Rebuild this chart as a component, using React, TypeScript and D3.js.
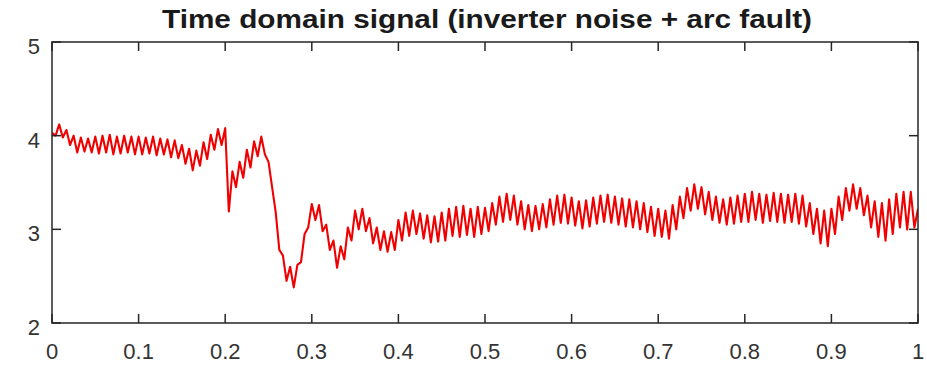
import React from "react";
import * as d3 from "d3";

const title = "Time domain signal (inverter noise + arc fault)";
const xTicks = [0, 0.1, 0.2, 0.3, 0.4, 0.5, 0.6, 0.7, 0.8, 0.9, 1];
const xTickLabels = ["0", "0.1", "0.2", "0.3", "0.4", "0.5", "0.6", "0.7", "0.8", "0.9", "1"];
const yTicks = [2, 3, 4, 5];
const yTickLabels = ["2", "3", "4", "5"];

// signal samples, evenly spaced from t = 0 to t = 1 (peak / trough pairs)
const signal = [
  // 0.00 - 0.05
  4.03, 4.0, 4.12, 3.98, 4.06, 3.9, 4.0, 3.82, 3.98, 3.83, 3.97, 3.82,
  // 0.05 - 0.10
  3.99, 3.81, 4.0, 3.82, 4.01, 3.8, 3.99, 3.81, 4.0, 3.82, 3.99, 3.8,
  // 0.10 - 0.15
  3.99, 3.8, 3.98, 3.81, 3.99, 3.79, 3.97, 3.8, 3.96, 3.77, 3.95, 3.76,
  // 0.15 - 0.20
  3.9, 3.7, 3.86, 3.63, 3.84, 3.68, 3.93, 3.75, 4.01, 3.85, 4.07, 3.9,
  // 0.20 - 0.25
  4.08, 3.19, 3.62, 3.45, 3.72, 3.55, 3.85, 3.66, 3.94, 3.78, 3.99, 3.8,
  // 0.25 - 0.30
  3.72, 3.45, 3.18, 2.78, 2.72, 2.45, 2.6, 2.38, 2.62, 2.65, 2.95, 3.02,
  // 0.30 - 0.35
  3.27, 3.1, 3.26, 2.98, 3.05, 2.78, 2.88, 2.59, 2.82, 2.68, 3.02, 2.88,
  // 0.35 - 0.40
  3.2, 3.0, 3.22, 2.98, 3.12, 2.85, 3.02, 2.78, 2.98, 2.76, 2.97, 2.78,
  // 0.40 - 0.45
  3.1, 2.88, 3.18, 2.93, 3.2, 2.95, 3.17, 2.9, 3.15, 2.86, 3.14, 2.87,
  // 0.45 - 0.50
  3.18, 2.88, 3.22, 2.93, 3.24, 2.92, 3.25, 2.94, 3.22, 2.92, 3.24, 2.95,
  // 0.50 - 0.55
  3.23, 2.98, 3.28, 3.05, 3.35, 3.08, 3.38, 3.1, 3.36, 3.05, 3.3, 3.0,
  // 0.55 - 0.60
  3.26, 2.98, 3.25, 3.0, 3.27, 3.02, 3.32, 3.05, 3.36, 3.07, 3.37, 3.06,
  // 0.60 - 0.65
  3.34, 3.04, 3.3, 3.01, 3.31, 3.03, 3.34, 3.06, 3.36, 3.08, 3.37, 3.07,
  // 0.65 - 0.70
  3.35, 3.05, 3.33, 3.03, 3.32, 3.02, 3.3, 3.0, 3.28, 2.97, 3.24, 2.93,
  // 0.70 - 0.75
  3.22, 2.92, 3.2, 2.9, 3.26, 3.0, 3.35, 3.12, 3.44, 3.2, 3.48, 3.22,
  // 0.75 - 0.80
  3.45, 3.16, 3.4, 3.1, 3.35, 3.07, 3.32, 3.05, 3.34, 3.06, 3.36, 3.08,
  // 0.80 - 0.85
  3.38, 3.08, 3.4, 3.1, 3.38, 3.07, 3.37, 3.09, 3.39, 3.08, 3.38, 3.07,
  // 0.85 - 0.90
  3.37, 3.08, 3.38, 3.06, 3.36, 3.03, 3.28, 2.95, 3.22, 2.85, 3.2, 2.82,
  // 0.90 - 0.95
  3.22, 2.95, 3.35, 3.1, 3.44, 3.2, 3.48, 3.22, 3.44, 3.15, 3.36, 3.02,
  // 0.95 - 1.00
  3.3, 2.92, 3.28, 2.88, 3.32, 2.95, 3.38, 3.02, 3.4, 3.0, 3.4, 3.02, 3.22,
];

const W = 927;
const H = 368;
const M = { left: 52, right: 918, top: 42, bottom: 323 };
const FONT = "'Liberation Sans', Arial, Helvetica, sans-serif";
const AXIS = "#262626";

export default function App() {
  const x = d3.scaleLinear().domain([0, 1]).range([M.left, M.right]);
  const y = d3.scaleLinear().domain([2, 5]).range([M.bottom, M.top]);
  const idx = d3.scaleLinear().domain([0, signal.length - 1]).range([0, 1]);

  const line = d3
    .line<number>()
    .x((_, i) => x(idx(i)))
    .y((d) => y(d))
    .curve(d3.curveLinear);

  const tickLen = 9;

  return (
    <svg
      width={W}
      height={H}
      style={{ position: "absolute", left: 0, top: 0, background: "#fff" }}
      fontFamily={FONT}
    >
      <rect x={0} y={0} width={W} height={H} fill="#fff" />
      <text
        x={(M.left + M.right) / 2 + 2}
        y={28}
        textAnchor="middle"
        fontWeight="bold"
        fontSize={26}
        fill="#1a1a1a"
        textLength={650}
        lengthAdjust="spacingAndGlyphs"
      >
        {title}
      </text>

      <defs>
        <clipPath id="plotClip">
          <rect x={M.left} y={M.top} width={M.right - M.left} height={M.bottom - M.top} />
        </clipPath>
      </defs>

      <path
        d={line(signal) || ""}
        fill="none"
        stroke="#f00000"
        strokeWidth={2.1}
        strokeLinejoin="round"
        clipPath="url(#plotClip)"
      />

      {/* box */}
      <rect
        x={M.left}
        y={M.top}
        width={M.right - M.left}
        height={M.bottom - M.top}
        fill="none"
        stroke={AXIS}
        strokeWidth={1.5}
      />

      {xTicks.map((t, i) => (
        <g key={"x" + i}>
          <line x1={x(t)} x2={x(t)} y1={M.bottom} y2={M.bottom - tickLen} stroke={AXIS} strokeWidth={1.5} />
          <line x1={x(t)} x2={x(t)} y1={M.top} y2={M.top + tickLen} stroke={AXIS} strokeWidth={1.5} />
          <text x={x(t)} y={359} textAnchor="middle" fontSize={22} fill="#333">
            {xTickLabels[i]}
          </text>
        </g>
      ))}

      {yTicks.map((v, i) => (
        <g key={"y" + i}>
          <line x1={M.left} x2={M.left + tickLen} y1={y(v)} y2={y(v)} stroke={AXIS} strokeWidth={1.5} />
          <line x1={M.right} x2={M.right - tickLen} y1={y(v)} y2={y(v)} stroke={AXIS} strokeWidth={1.5} />
          <text x={40} y={y(v) + 12} textAnchor="end" fontSize={22} fill="#333">
            {yTickLabels[i]}
          </text>
        </g>
      ))}
    </svg>
  );
}
